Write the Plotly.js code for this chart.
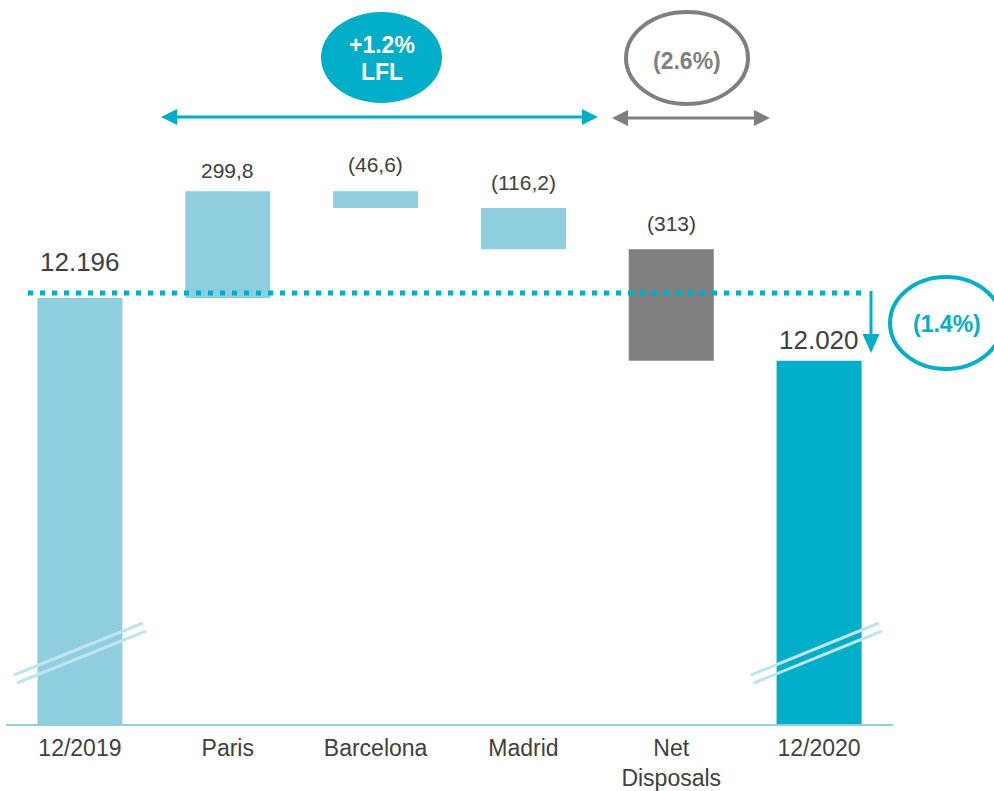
<!DOCTYPE html>
<html>
<head>
<meta charset="utf-8">
<script src="https://cdn.plot.ly/plotly-3.0.1.min.js"></script>
<style>
  html, body { margin: 0; padding: 0; background: #ffffff; }
  #chart { width: 994px; height: 791px; }
</style>
</head>
<body>
<div id="chart"></div>
<script>
// ---- data ----
const categories = ['12/2019', 'Paris', 'Barcelona', 'Madrid', 'Net<br>Disposals', '12/2020'];
const measures   = ['absolute', 'relative', 'relative', 'relative', 'relative', 'total'];
const values     = [12196, 299.8, -46.6, -116.2, -313, 12020];
const valueLabels = ['12.196', '299,8', '(46,6)', '(116,2)', '(313)', '12.020'];
const badgeLFL = ['+1.2%', 'LFL'];
const badgeDisposals = '(2.6%)';
const badgeTotal = '(1.4%)';

// ---- styling ----
const LIGHT = '#8FCEDF', TEAL = '#00AEC7', GREY = '#7F7F7F', TEXT = '#404040';
const barColors = [LIGHT, LIGHT, LIGHT, LIGHT, GREY, TEAL];
const labelFont = [26, 21, 21, 21, 21, 26];
const labelLift = [36, 21, 27, 25, 26, 21];
const FONT = 'Liberation Sans, Arial, sans-serif';
const yMin = 11000, yMax = 13005;

// ---- waterfall geometry from data ----
const bases = [], heights = [], tops = [];
let running = 0;
values.forEach((v, i) => {
  if (measures[i] === 'absolute' || measures[i] === 'total') {
    bases.push(0); heights.push(v); running = v; tops.push(v);
  } else {
    bases.push(running); heights.push(v); tops.push(Math.max(running, running + v)); running += v;
  }
});
const xIdx = categories.map((_, i) => i);

const trace = {
  type: 'bar',
  x: xIdx,
  y: heights,
  base: bases,
  width: 0.575,
  marker: { color: barColors, line: { width: 0 } },
  hoverinfo: 'skip'
};

// pixel -> paper helpers (plot area: x 6..893, y 10..724)
const L = 6, R = 101, T = 10, B = 67, W = 994 - L - R, H = 791 - T - B;
const px = x => (x - L) / W;
const py = y => (791 - B - y) / H;

function arrowHead(tipX, tipY, dir, len, half, color) {
  let p;
  if (dir === 'left')  p = [[tipX, tipY], [tipX + len, tipY - half], [tipX + len, tipY + half]];
  if (dir === 'right') p = [[tipX, tipY], [tipX - len, tipY - half], [tipX - len, tipY + half]];
  if (dir === 'down')  p = [[tipX, tipY], [tipX - half, tipY - len], [tipX + half, tipY - len]];
  const path = 'M' + p.map(q => px(q[0]) + ',' + py(q[1])).join(' L') + ' Z';
  return { type: 'path', xref: 'paper', yref: 'paper', path: path,
           fillcolor: color, line: { width: 0 }, layer: 'above' };
}
function segment(x0, y0, x1, y1, color, width, dash) {
  return { type: 'line', xref: 'paper', yref: 'paper',
           x0: px(x0), y0: py(y0), x1: px(x1), y1: py(y1),
           line: { color: color, width: width, dash: dash || 'solid' }, layer: 'above' };
}

const shapes = [
  // dotted reference line at opening value
  { type: 'line', xref: 'paper', yref: 'y', ysizemode: 'pixel', yanchor: values[0],
    x0: px(28), x1: px(866), y0: 5, y1: 5,
    line: { color: TEAL, width: 5, dash: '5px,7px' }, layer: 'above' },
  // LFL double arrow
  segment(172, 117, 587, 117, TEAL, 3),
  arrowHead(161, 117, 'left', 16, 8, TEAL),
  arrowHead(598, 117, 'right', 16, 8, TEAL),
  // Disposals double arrow
  segment(624, 118, 758, 118, GREY, 3),
  arrowHead(612, 118, 'left', 16, 8, GREY),
  arrowHead(770, 118, 'right', 16, 8, GREY),
  // down arrow
  segment(871, 291, 871, 338, TEAL, 3),
  arrowHead(871, 353, 'down', 19, 8.5, TEAL),
  // ellipses
  { type: 'circle', xref: 'paper', yref: 'paper', x0: px(321), x1: px(442), y0: py(103), y1: py(12),
    fillcolor: TEAL, line: { width: 0 }, layer: 'above' },
  { type: 'circle', xref: 'paper', yref: 'paper', x0: px(626), x1: px(748), y0: py(104), y1: py(12),
    fillcolor: 'rgba(0,0,0,0)', line: { color: GREY, width: 4 }, layer: 'above' },
  { type: 'circle', xref: 'paper', yref: 'paper', x0: px(890), x1: px(1002), y0: py(369), y1: py(277),
    fillcolor: 'rgba(0,0,0,0)', line: { color: TEAL, width: 4 }, layer: 'above' },
  // axis break marks
  segment(14, 675, 143, 623, '#BFE4EE', 3),
  segment(17, 683, 146, 631, '#BFE4EE', 3),
  segment(751, 675, 879, 623, '#BFE4EE', 3),
  segment(754, 683, 882, 631, '#BFE4EE', 3)
];

const annotations = valueLabels.map((t, i) => ({
  x: i, y: tops[i], xref: 'x', yref: 'y', text: t, showarrow: false,
  yanchor: 'middle', xanchor: 'center', yshift: labelLift[i],
  font: { family: FONT, size: labelFont[i], color: TEXT }
}));
function badgeText(x, y, text, color) {
  return { xref: 'paper', yref: 'paper', x: px(x), y: py(y), text: '<b>' + text + '</b>',
           showarrow: false, xanchor: 'center', yanchor: 'middle',
           font: { family: FONT, size: 23, color: color } };
}
annotations.push(
  badgeText(382, 45, badgeLFL[0], '#ffffff'),
  badgeText(382, 72, badgeLFL[1], '#ffffff'),
  badgeText(687, 61, badgeDisposals, GREY),
  badgeText(947, 324, badgeTotal, TEAL)
);

const layout = {
  width: 994, height: 791,
  margin: { l: L, r: R, t: T, b: B, pad: 0 },
  paper_bgcolor: '#ffffff', plot_bgcolor: '#ffffff',
  showlegend: false,
  xaxis: {
    type: 'linear', range: [-0.5, 5.5], tickmode: 'array', tickvals: xIdx, ticktext: categories,
    showgrid: false, zeroline: false, showline: true, linecolor: '#92D0DF', linewidth: 2,
    ticks: '', ticklabelstandoff: 2,
    tickfont: { family: FONT, size: 23, color: TEXT }, fixedrange: true
  },
  yaxis: {
    range: [yMin, yMax], visible: false, showgrid: false, zeroline: false, fixedrange: true
  },
  shapes: shapes,
  annotations: annotations
};

Plotly.newPlot('chart', [trace], layout, { displayModeBar: false, staticPlot: true });
</script>
</body>
</html>
